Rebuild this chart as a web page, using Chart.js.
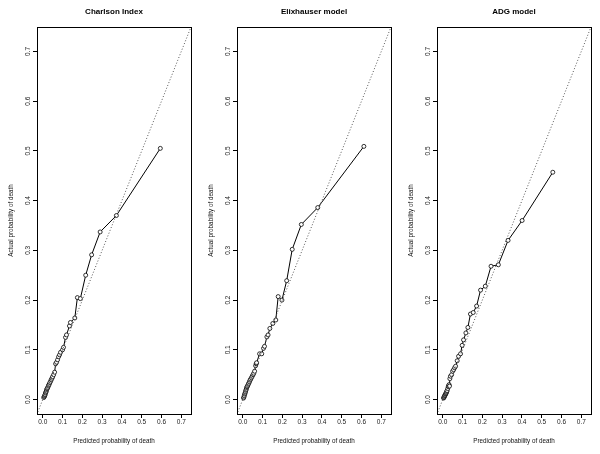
<!DOCTYPE html>
<html>
<head>
<meta charset="utf-8">
<script src="https://cdn.jsdelivr.net/npm/chart.js@4.4.1/dist/chart.umd.min.js"></script>
<style>
    html, body { margin: 0; padding: 0; background: #fff; }
    #wrap { position: relative; width: 600px; height: 454px; }
    #wrap canvas { position: absolute; top: 0; }
</style>
</head>
<body>
<div id="wrap">
    <canvas id="panel0" width="200" height="454" style="left:0px"></canvas>
    <canvas id="panel1" width="200" height="454" style="left:200px"></canvas>
    <canvas id="panel2" width="200" height="454" style="left:400px"></canvas>
</div>
<script>
// values (predicted vs actual probability of death)
const titles = ['Charlson Index', 'Elixhauser model', 'ADG model'];

const charlsonPred = [0.005, 0.008, 0.010, 0.012, 0.014, 0.016, 0.018, 0.020, 0.022, 0.025, 0.028, 0.030, 0.033, 0.036, 0.040, 0.043, 0.047, 0.050, 0.055, 0.060, 0.065, 0.070, 0.075, 0.080, 0.085, 0.090, 0.100, 0.105, 0.115, 0.120, 0.135, 0.140, 0.162, 0.175, 0.190, 0.217, 0.247, 0.290, 0.372, 0.594];
const charlsonObs  = [0.004, 0.006, 0.008, 0.010, 0.013, 0.015, 0.017, 0.020, 0.022, 0.024, 0.027, 0.029, 0.031, 0.034, 0.037, 0.040, 0.043, 0.046, 0.050, 0.055, 0.072, 0.075, 0.080, 0.086, 0.090, 0.095, 0.100, 0.105, 0.125, 0.130, 0.148, 0.155, 0.164, 0.205, 0.203, 0.250, 0.291, 0.337, 0.370, 0.505];

const elixPred = [0.004, 0.006, 0.008, 0.010, 0.012, 0.014, 0.016, 0.018, 0.020, 0.022, 0.025, 0.028, 0.031, 0.034, 0.037, 0.040, 0.044, 0.048, 0.052, 0.056, 0.060, 0.065, 0.068, 0.070, 0.085, 0.096, 0.105, 0.110, 0.122, 0.128, 0.137, 0.152, 0.167, 0.179, 0.198, 0.222, 0.250, 0.296, 0.379, 0.612];
const elixObs  = [0.003, 0.005, 0.008, 0.011, 0.013, 0.016, 0.019, 0.021, 0.024, 0.026, 0.028, 0.031, 0.033, 0.036, 0.039, 0.041, 0.044, 0.047, 0.050, 0.053, 0.057, 0.068, 0.072, 0.074, 0.092, 0.092, 0.103, 0.107, 0.126, 0.130, 0.143, 0.153, 0.160, 0.207, 0.200, 0.239, 0.302, 0.352, 0.386, 0.509];

const adgPred = [0.004, 0.006, 0.008, 0.010, 0.012, 0.014, 0.016, 0.018, 0.020, 0.022, 0.025, 0.028, 0.030, 0.032, 0.034, 0.036, 0.039, 0.045, 0.050, 0.055, 0.060, 0.065, 0.073, 0.080, 0.090, 0.098, 0.105, 0.117, 0.127, 0.140, 0.154, 0.171, 0.191, 0.215, 0.244, 0.281, 0.330, 0.401, 0.556];
const adgObs  = [0.003, 0.004, 0.006, 0.008, 0.009, 0.011, 0.012, 0.014, 0.016, 0.018, 0.022, 0.026, 0.028, 0.030, 0.027, 0.042, 0.047, 0.050, 0.057, 0.060, 0.064, 0.067, 0.078, 0.087, 0.092, 0.109, 0.120, 0.134, 0.145, 0.172, 0.175, 0.188, 0.220, 0.228, 0.268, 0.271, 0.320, 0.360, 0.457];

const tickValues = [0, 0.1, 0.2, 0.3, 0.4, 0.5, 0.6, 0.7];
const axisMin = -0.029;
const axisMax = 0.749;

const panels = [
    [charlsonPred, charlsonObs],
    [elixPred, elixObs],
    [adgPred, adgObs]
];

const FONT = '"Liberation Sans", Arial, Helvetica, sans-serif';

// box round the plot region and the bold title above it
const frame = {
    id: 'frame',
    afterDraw(chart, args, opts) {
        const { ctx, chartArea: a } = chart;
        ctx.save();
        ctx.strokeStyle = '#000';
        ctx.lineWidth = 1;
        ctx.strokeRect(Math.round(a.left) + 0.5, Math.round(a.top) + 0.5,
            Math.round(a.right - a.left), Math.round(a.bottom - a.top));
        ctx.fillStyle = '#000';
        ctx.font = 'bold 8px ' + FONT;
        ctx.textAlign = 'center';
        ctx.textBaseline = 'middle';
        ctx.fillText(opts.text, (a.left + a.right) / 2, 12);
        ctx.restore();
    }
};

function axisOpts(isX) {
    return {
        type: 'linear',
        min: axisMin,
        max: axisMax,
        afterBuildTicks: s => { s.ticks = tickValues.map(v => ({ value: v })); },
        afterFit: s => { if (isX) s.height = 40; else s.width = 37; },
        border: { display: false },
        grid: {
            display: true,
            drawOnChartArea: false,
            drawTicks: true,
            tickLength: 4,
            color: '#000',
            lineWidth: 1
        },
        ticks: {
            color: '#222',
            font: { family: FONT, size: 6.5 },
            padding: isX ? 4 : 0,
            minRotation: isX ? 0 : 90,
            maxRotation: isX ? 0 : 90,
            crossAlign: 'center',
            callback: v => v.toFixed(1)
        },
        title: {
            display: true,
            text: isX ? 'Predicted probability of death' : 'Actual probability of death',
            color: '#111',
            font: { family: FONT, size: 6.3 },
            padding: isX ? { top: 0, bottom: 9 } : { top: 7, bottom: 0 }
        }
    };
}

panels.forEach(([pred, obs], i) => {
    const ctx = document.getElementById('panel' + i).getContext('2d');
    new Chart(ctx, {
        type: 'scatter',
        data: {
            datasets: [
                {
                    label: 'diagonal',
                    data: [{ x: -1, y: -1 }, { x: 1, y: 1 }],
                    showLine: true,
                    borderColor: '#555',
                    borderWidth: 1,
                    borderDash: [1, 2],
                    pointRadius: 0
                },
                {
                    label: titles[i],
                    data: pred.map((p, k) => ({ x: p, y: obs[k] })),
                    showLine: true,
                    borderColor: '#000',
                    borderWidth: 1,
                    pointRadius: 2,
                    pointBorderWidth: 0.8,
                    pointBorderColor: '#000',
                    pointBackgroundColor: '#fff'
                }
            ]
        },
        options: {
            responsive: false,
            animation: false,
            layout: { padding: { top: 27, right: 9, left: 0, bottom: 0 } },
            plugins: {
                legend: { display: false },
                tooltip: { enabled: false },
                frame: { text: titles[i] }
            },
            scales: {
                x: axisOpts(true),
                y: axisOpts(false)
            }
        },
        plugins: [frame]
    });
});
</script>
</body>
</html>
